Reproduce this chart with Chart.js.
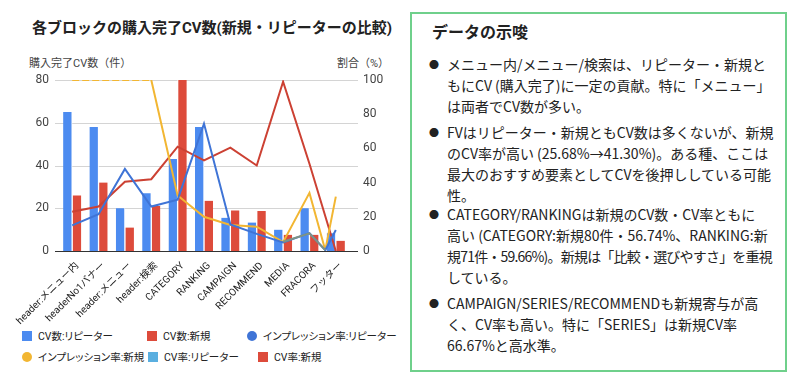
<!DOCTYPE html>
<html>
<head>
<meta charset="utf-8">
<script src="https://cdn.jsdelivr.net/npm/chart.js@4"></script>
<style>
html, body { margin: 0; padding: 0; background: #fff; width: 800px; height: 384px; overflow: hidden; }
body { position: relative; font-family: Roboto, "Noto Sans CJK JP", sans-serif; color: #222; }
#chart { position: absolute; left: 0; top: 0; }
.abs { position: absolute; white-space: nowrap; }
#title { left: 32px; top: 18px; font-size: 15px; font-weight: bold; line-height: 20px; }
.axt { top: 57px; font-size: 11px; color: #444; line-height: 14px; }
.lg { position: absolute; font-size: 10.5px; line-height: 14px; white-space: nowrap; font-feature-settings: "palt"; }
.lg i { display: inline-block; width: 10px; height: 10px; vertical-align: -1px; margin-right: 6px; }
.lg i.c { border-radius: 50%; }
#panel { position: absolute; left: 410px; top: 12px; width: 377px; height: 360px; box-sizing: border-box;
         border: 2px solid #6fd08b; font-family: "Noto Sans CJK JP", sans-serif; color: #222; }
#panel h2 { position: absolute; left: 20px; top: 6px; margin: 0; font-size: 16px; line-height: 22px; font-weight: bold; }
.p { position: absolute; left: 35px; font-size: 14px; line-height: 21px; white-space: nowrap; }
.p::before { content: "●"; position: absolute; left: -18px; top: 0; font-size: 10px; }
.tight { letter-spacing: -0.8px; }
</style>
</head>
<body>
<div id="title" class="abs">各ブロックの購入完了CV数(新規・リピーターの比較)</div>
<div class="abs axt" style="left:29px">購入完了CV数（件）</div>
<div class="abs axt" style="left:337px">割合（%）</div>
<canvas id="chart" width="400" height="330"></canvas>

<div class="lg" style="left:22px;top:330px"><i style="background:#4c8bf0"></i>CV数:リピーター</div>
<div class="lg" style="left:147px;top:330px"><i style="background:#dd4b3b"></i>CV数:新規</div>
<div class="lg" style="left:247px;top:330px"><i class="c" style="background:#3f74d6"></i>インプレッション率:リピーター</div>
<div class="lg" style="left:22px;top:351px"><i class="c" style="background:#f2b632"></i>インプレッション率:新規</div>
<div class="lg" style="left:148px;top:351px"><i style="background:#5aafe0"></i>CV率:リピーター</div>
<div class="lg" style="left:258px;top:351px"><i style="background:#dd4b3b"></i>CV率:新規</div>

<div id="panel">
  <h2>データの示唆</h2>
  <div class="p" style="top:40px">メニュー内/メニュー/検索は、リピーター・新規と<br>もにCV (購入完了)に一定の貢献。特に「メニュー」<br>は両者でCV数が多い。</div>
  <div class="p" style="top:108px">FVはリピーター・新規ともCV数は多くないが、新規<br>のCV率が高い (25.68%→41.30%)。ある種、ここは<br>最大のおすすめ要素としてCVを後押ししている可能<br>性。</div>
  <div class="p" style="top:190px">CATEGORY/RANKINGは新規のCV数・CV率ともに<br>高い (CATEGORY:新規80件・56.74%、RANKING:新<br><span class="tight">規71件・59.66%)。新規は「比較・選びやすさ」を重視</span><br>している。</div>
  <div class="p" style="top:279px">CAMPAIGN/SERIES/RECOMMENDも新規寄与が高<br>く、CV率も高い。特に「SERIES」は新規CV率<br>66.67%と高水準。</div>
</div>

<script>
const categories = ['header:メニュー内', 'headerNo1バナー', 'header:メニュー', 'header:検索', 'CATEGORY', 'RANKING',
                    'CAMPAIGN', 'RECOMMEND', 'MEDIA', 'FRACORA', 'フッター'];

// CV数 (left axis)
const cvRepeater = [65, 58, 20, 27, 43, 58, 15.5, 13.3, 10, 20, 8.3];
const cvNew = [26, 32, 11, 21, 80, 23.5, 19, 18.7, 7.6, 7.6, 4.8];

// 割合 % (right axis)
const impRepeater = [15, 21.5, 48, 26, 30, 74.5, 15.5, 10, 5, 10.5, 12.3];
const impNew = [100, 100, 100, 100, 32.5, 20, 15.2, 14.2, 5.2, 34, 31.8];
const cvRateRepeater = [null, null, null, null, null, null, null, null, 5.4, 10.3, null];
const cvRateNew = [23, 26, 40.5, 42, 61, 53, 60.4, 50, 99, 51, 0];

// the lines also pass through a point between FRACORA and フッター
const dipStep = 9.6;
const dipImpRepeater = 0.5;
const dipImpNew = 0.5;
const dipCvRateRepeater = 0.5;
const dipCvRateNew = null;

function linePoints(values, dip) {
  const pts = values.map((v, i) => ({ x: i, y: v }));
  pts.splice(values.length - 1, 0, { x: dipStep, y: dip });
  return pts;
}

const gridPlugin = {
  id: 'extGrid',
  beforeDatasetsDraw(chart) {
    const { ctx, chartArea, scales } = chart;
    const y = scales.y;
    ctx.save();
    ctx.lineWidth = 1;
    y.ticks.forEach(t => {
      const py = Math.round(y.getPixelForValue(t.value)) + 0.5;
      ctx.strokeStyle = t.value === 0 ? '#333' : '#d4d4d4';
      ctx.beginPath();
      ctx.moveTo(chartArea.left - 4, py);
      ctx.lineTo(chartArea.right + 9, py);
      ctx.stroke();
    });
    ctx.restore();
  }
};

const lineBase = { type: 'line', xAxisID: 'xl', yAxisID: 'yr', borderWidth: 2, pointRadius: 0, tension: 0, fill: false };
const barBase = { yAxisID: 'y', barThickness: 9, borderColor: '#fff', borderSkipped: 'bottom' };

new Chart(document.getElementById('chart'), {
  type: 'bar',
  data: {
    labels: categories,
    datasets: [
      { ...lineBase, label: 'CV率:リピーター', data: linePoints(cvRateRepeater, dipCvRateRepeater), borderColor: '#7e9485', order: 0 },
      { ...lineBase, label: 'インプレッション率:リピーター', data: linePoints(impRepeater, dipImpRepeater), borderColor: '#3f74d6', order: 1 },
      { ...lineBase, label: 'インプレッション率:新規', data: linePoints(impNew, dipImpNew), borderColor: '#f2b632', order: 2,
        segment: { borderDash: c => (c.p0.parsed.y >= 100 && c.p1.parsed.y >= 100) ? [7, 3] : undefined } },
      { ...lineBase, label: 'CV率:新規', data: linePoints(cvRateNew, dipCvRateNew), borderColor: '#cc4133', spanGaps: true, order: 3 },
      { ...barBase, label: 'CV数:リピーター', data: cvRepeater, backgroundColor: '#4c8bf0', order: 10,
        borderWidth: { top: 0, right: 1, bottom: 0, left: 0 } },
      { ...barBase, label: 'CV数:新規', data: cvNew, backgroundColor: '#dd4b3b', order: 11,
        borderWidth: { top: 0, right: 0, bottom: 0, left: 1 } }
    ]
  },
  options: {
    responsive: false,
    animation: false,
    devicePixelRatio: 1,
    layout: { padding: { top: 80, left: 9, right: 11, bottom: 0 } },
    plugins: { legend: { display: false }, tooltip: { enabled: false } },
    scales: {
      x: {
        grid: { display: false, drawTicks: false },
        border: { display: false },
        ticks: { color: '#222', font: { size: 10, family: 'Roboto, "Noto Sans CJK JP", sans-serif' },
                 minRotation: 45, maxRotation: 45, autoSkip: false, padding: 9, labelOffset: 5 },
        afterFit: s => { s.height = 79; }
      },
      xl: { type: 'linear', display: false, offset: false, min: -0.5, max: 10.5 },
      y: {
        position: 'left', min: 0, max: 80,
        grid: { display: false, drawTicks: false },
        border: { display: false },
        ticks: { stepSize: 20, padding: 10, color: '#444', font: { size: 12, family: 'Roboto, sans-serif' } },
        afterFit: s => { s.width = 50; }
      },
      yr: {
        position: 'right', min: 0, max: 100,
        grid: { display: false, drawTicks: false },
        border: { display: false },
        ticks: { stepSize: 20, padding: 14, color: '#444', font: { size: 12, family: 'Roboto, sans-serif' } },
        afterFit: s => { s.width = 40; }
      }
    }
  },
  plugins: [gridPlugin]
});
</script>
</body>
</html>
